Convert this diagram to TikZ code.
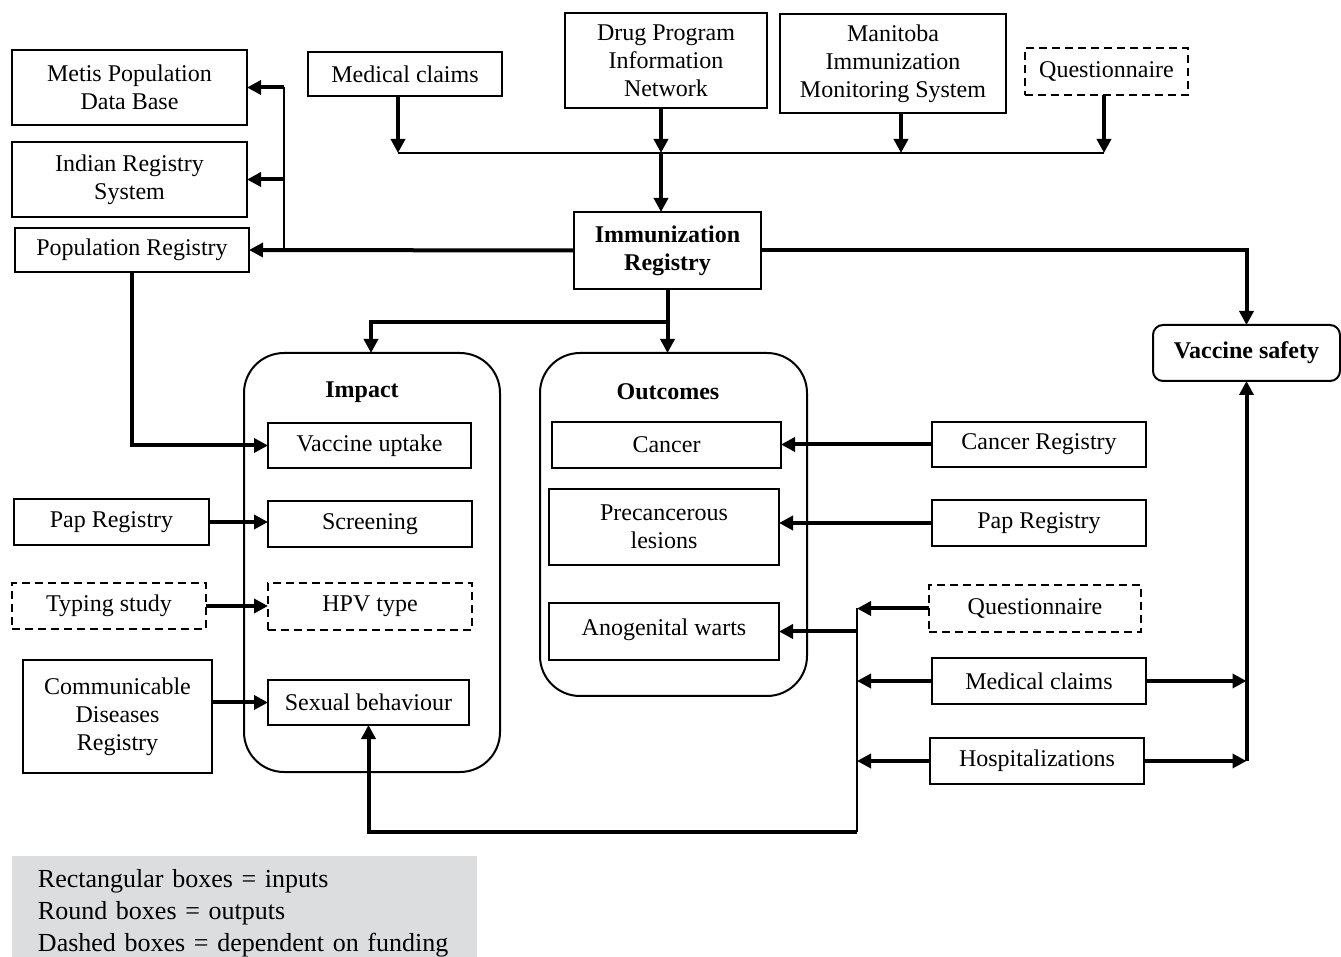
\documentclass[tikz,border=0pt]{standalone}
\usepackage{fontspec}
\setmainfont{Liberation Serif}
\usetikzlibrary{arrows.meta}
\definecolor{legendgray}{HTML}{DCDDDE}
\begin{document}
\begin{tikzpicture}[x=0.5pt,y=-0.5pt,
  box/.style={draw, line width=1pt, inner sep=0pt, outer sep=0pt, align=center, font=\fontsize{12}{14}\selectfont},
  dbox/.style={box, dash pattern=on 4pt off 2.5pt, line width=1.3pt},
  rbox/.style={box, rounded corners=20pt},
  arr/.style={line width=2pt, -{Triangle[length=7pt,width=7pt]}},
  thk/.style={line width=2pt},
  thn/.style={line width=1pt},
  ttl/.style={font=\fontsize{12}{14}\selectfont\bfseries, inner sep=0pt}]
\useasboundingbox (0,0) rectangle (1341,957);
% top-left boxes
\node[box, minimum width=117.5pt, minimum height=37.5pt] (metis) at (129.5,87.5) {Metis Population\\Data Base};
\node[box, minimum width=117.5pt, minimum height=37.5pt] (indian) at (129.5,179.5) {Indian Registry\\System};
\node[box, minimum width=117pt, minimum height=22pt] (popreg) at (132,250) {Population Registry};
% top boxes
\node[box, minimum width=97pt, minimum height=22pt] (medtop) at (405,74) {Medical claims};
\node[box, minimum width=101pt, minimum height=47.5pt] (drug) at (666,60.5) {Drug Program\\Information\\Network};
\node[box, minimum width=113pt, minimum height=49.5pt] (mims) at (893,63.5) {Manitoba\\Immunization\\Monitoring System};
\node[dbox, minimum width=81.5pt, minimum height=23.5pt] (qtop) at (1106.5,71.5) {Questionnaire};
% registry
\node[box, minimum width=93.5pt, minimum height=38.5pt, font=\fontsize{12}{14}\selectfont\bfseries] (imm) at (667.5,250.5) {Immunization\\Registry};
\node[box, rounded corners=5pt, minimum width=93.5pt, minimum height=28pt, font=\fontsize{12}{14}\selectfont\bfseries] (vs) at (1246.5,353) {Vaccine safety};
% output groups
\node[rbox, minimum width=128pt, minimum height=209.5pt] (impact) at (372,562.5) {};
\node[rbox, minimum width=133.5pt, minimum height=171.5pt] (outcomes) at (673.5,524.5) {};
\node[ttl] (impactttl) at (362,392) {Impact};
\node[ttl] (outcomesttl) at (668,392) {Outcomes};
% impact items
\node[box, minimum width=101.5pt, minimum height=22.5pt] (vu) at (369.5,445.5) {Vaccine uptake};
\node[box, minimum width=102pt, minimum height=23pt] (scr) at (370,524) {Screening};
\node[dbox, minimum width=102pt, minimum height=23.5pt] (hpv) at (370,606.5) {HPV type};
\node[box, minimum width=100.5pt, minimum height=22.5pt] (sex) at (368.5,702.5) {Sexual behaviour};
% left inputs
\node[box, minimum width=97.5pt, minimum height=23pt] (papL) at (111.5,522) {Pap Registry};
\node[dbox, minimum width=97pt, minimum height=23pt] (typing) at (109,606) {Typing study};
\node[box, minimum width=94.5pt, minimum height=56.5pt] (cdr) at (117.5,716.5) {Communicable\\Diseases\\Registry};
% outcome items
\node[box, minimum width=114.5pt, minimum height=23pt] (cancer) at (666.5,445) {Cancer};
\node[box, minimum width=115pt, minimum height=38pt] (prec) at (664,527) {Precancerous\\lesions};
\node[box, minimum width=115pt, minimum height=28.5pt] (warts) at (664,631.5) {\raisebox{4pt}{Anogenital warts}};
% right inputs
\node[box, minimum width=107pt, minimum height=22.5pt] (creg) at (1039,444.5) {Cancer Registry};
\node[box, minimum width=107pt, minimum height=23pt] (papR) at (1039,523) {Pap Registry};
\node[dbox, minimum width=106pt, minimum height=23.5pt] (qR) at (1035,608.5) {Questionnaire};
\node[box, minimum width=107pt, minimum height=23pt] (medR) at (1039,681) {Medical claims};
\node[box, minimum width=107pt, minimum height=23pt] (hosp) at (1037,761) {Hospitalizations};
% legend
\node[fill=legendgray, minimum width=232.5pt, minimum height=57.5pt, inner xsep=13pt, inner ysep=0pt,
      text width=206.5pt, align=left, font=\fontsize{13}{16}\selectfont] (legend) at (244.5,913.5)
  {Rectangular boxes = inputs\\Round boxes = outputs\\Dashed boxes = dependent on funding};
% coordinates
\coordinate (busL) at (398,153);
\coordinate (busD) at (661,153);
\coordinate (busM) at (901,153);
\coordinate (busQ) at (1104,153);
\coordinate (trunk) at (284,250);
\coordinate (imp) at (371,322);
\coordinate (col) at (857,832);
% top bus
\draw[thn] (busL) -- (busQ);
\draw[arr] (medtop.south -| busL) -- (busL);
\draw[arr] (drug.south -| busD) -- (busD);
\draw[arr] (mims.south -| busM) -- (busM);
\draw[arr] (qtop.south -| busQ) -- (busQ);
\draw[arr] (busD) -- (imm.north -| busD);
% registry to population registries
\draw[arr] (imm.west) -- (popreg.east);
\draw[thn] (metis.east -| trunk) -- (trunk);
\draw[arr] (metis.east -| trunk) -- (metis.east);
\draw[arr] (indian.east -| trunk) -- (indian.east);
% registry to vaccine safety
\draw[arr] (imm.east) -- (vs.north |- imm.east) -- (vs.north);
% registry to outputs
\draw[arr] (imm.south) -- (imm.south |- outcomes.north);
\draw[arr] (imm.south |- imp) -- (imp) -- (imp |- impact.north);
% left inputs
\draw[arr] (popreg.south) -- (popreg.south |- vu.west) -- (vu.west);
\draw[arr] (papL.east) -- (papL.east -| scr.west);
\draw[arr] (typing.east) -- (typing.east -| hpv.west);
\draw[arr] (sex.west -| cdr.east) -- (sex.west);
% right inputs
\draw[arr] (creg.west) -- (creg.west -| cancer.east);
\draw[arr] (papR.west) -- (papR.west -| prec.east);
\draw[arr] (qR.west) -- (qR.west -| col);
\draw[arr] (medR.west) -- (medR.west -| col);
\draw[arr] (hosp.west) -- (hosp.west -| col);
\draw[thn] (qR.west -| col) -- (col);
\draw[arr] (warts.east -| col) -- (warts.east);
\draw[arr] (col) -- (col -| sex.south) -- (sex.south);
% vaccine safety inputs
\coordinate (vst) at (vs.south |- hosp.east);
\draw[arr] (medR.east) -- (medR.east -| vst);
\draw[arr] (hosp.east) -- (vst);
\draw[arr] (vst) -- (vs.south);
\end{tikzpicture}
\end{document}
